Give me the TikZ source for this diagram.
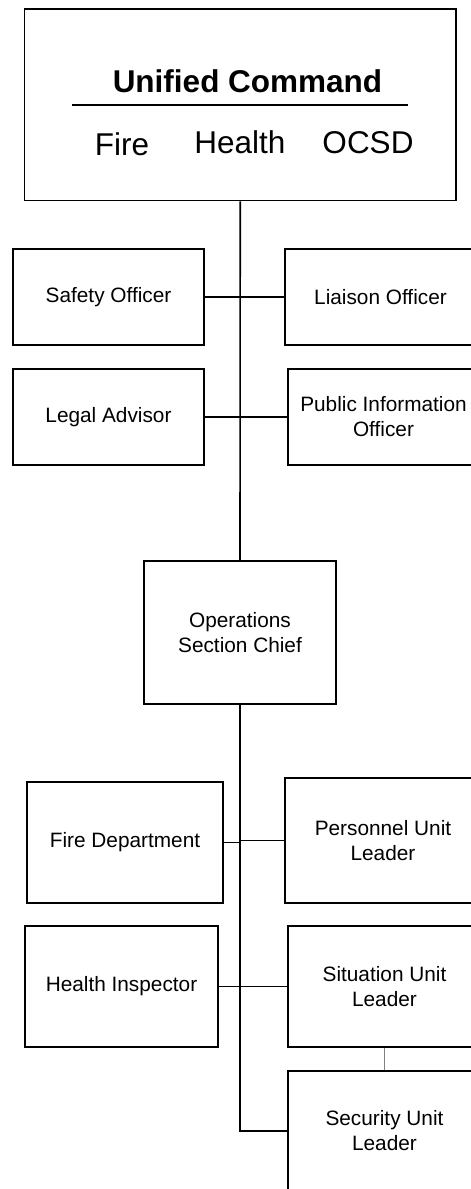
\documentclass[tikz,border=0pt]{standalone}
\usepackage{fontspec}
\setmainfont{Liberation Sans}
\begin{document}
\begin{tikzpicture}[x=1pt,y=-1pt,
  box/.style={draw, line width=1.8pt, align=center, inner sep=0pt,
              font=\fontsize{20.8}{25}\selectfont},
  head/.style={inner sep=0pt, anchor=base, font=\fontsize{31.5}{36}\selectfont},
  link/.style={line width=1.6pt},
  thinlink/.style={line width=1.1pt}]
\useasboundingbox (0,0) rectangle (471,1189);
\clip (0,0) rectangle (471,1189);

% command staff
\node[box, minimum width=431.5pt, minimum height=191.5pt] (uc) at (240.25,104.75) {};
\node[head, font=\fontsize{31.5}{36}\selectfont\bfseries] (uctitle) at (247.5,92.5) {Unified Command};
\coordinate (rulel) at (72,105);
\coordinate (ruler) at (408,105);
\draw[line width=1.6pt] (rulel) -- (ruler);
\node[head] (fire) at (122,155) {Fire};
\node[head] (health) at (240,153.5) {Health};
\node[head] (ocsd) at (368,153.5) {OCSD};

\node[box, minimum width=191pt, minimum height=96pt] (safety) at (108.5,297) {Safety Officer};
\node[box, minimum width=191pt, minimum height=96pt] (liaison) at (380.5,297) {Liaison Officer};
\node[box, minimum width=191pt, minimum height=96pt] (legal) at (108.5,417) {Legal Advisor};
\node[box, minimum width=191pt, minimum height=96pt] (pio) at (383.5,417) {Public Information\\Officer};

% operations
\node[box, minimum width=192pt, minimum height=143pt] (ops) at (240,632.5) {Operations\\Section Chief};

\node[box, minimum width=196pt, minimum height=121pt] (firedept) at (125,842.5) {Fire Department};
\node[box, minimum width=196pt, minimum height=125pt] (personnel) at (383,840.5) {Personnel Unit\\Leader};
\node[box, minimum width=193pt, minimum height=121pt] (inspector) at (121.5,986.5) {Health Inspector};
\node[box, minimum width=193pt, minimum height=121pt] (situation) at (384.5,986.5) {Situation Unit\\Leader};
\node[box, minimum width=193pt, minimum height=120pt] (security) at (384.5,1131) {Security Unit\\Leader};

% connectors
\draw[link] (uc.south) -- (ops.north);
\draw[link] (safety.east) -- (liaison.west);
\draw[link] (legal.east) -- (pio.west);
\draw[thinlink] (ops.south) |- (security.west);
\draw[thinlink] (firedept.east) -- (firedept.east -| ops.south);
\draw[thinlink] (personnel.west) -- (personnel.west -| ops.south);
\draw[thinlink] (inspector.east) -- (situation.west);
\draw[thinlink, gray] (situation.south) -- (situation.south |- security.north);
\end{tikzpicture}
\end{document}
